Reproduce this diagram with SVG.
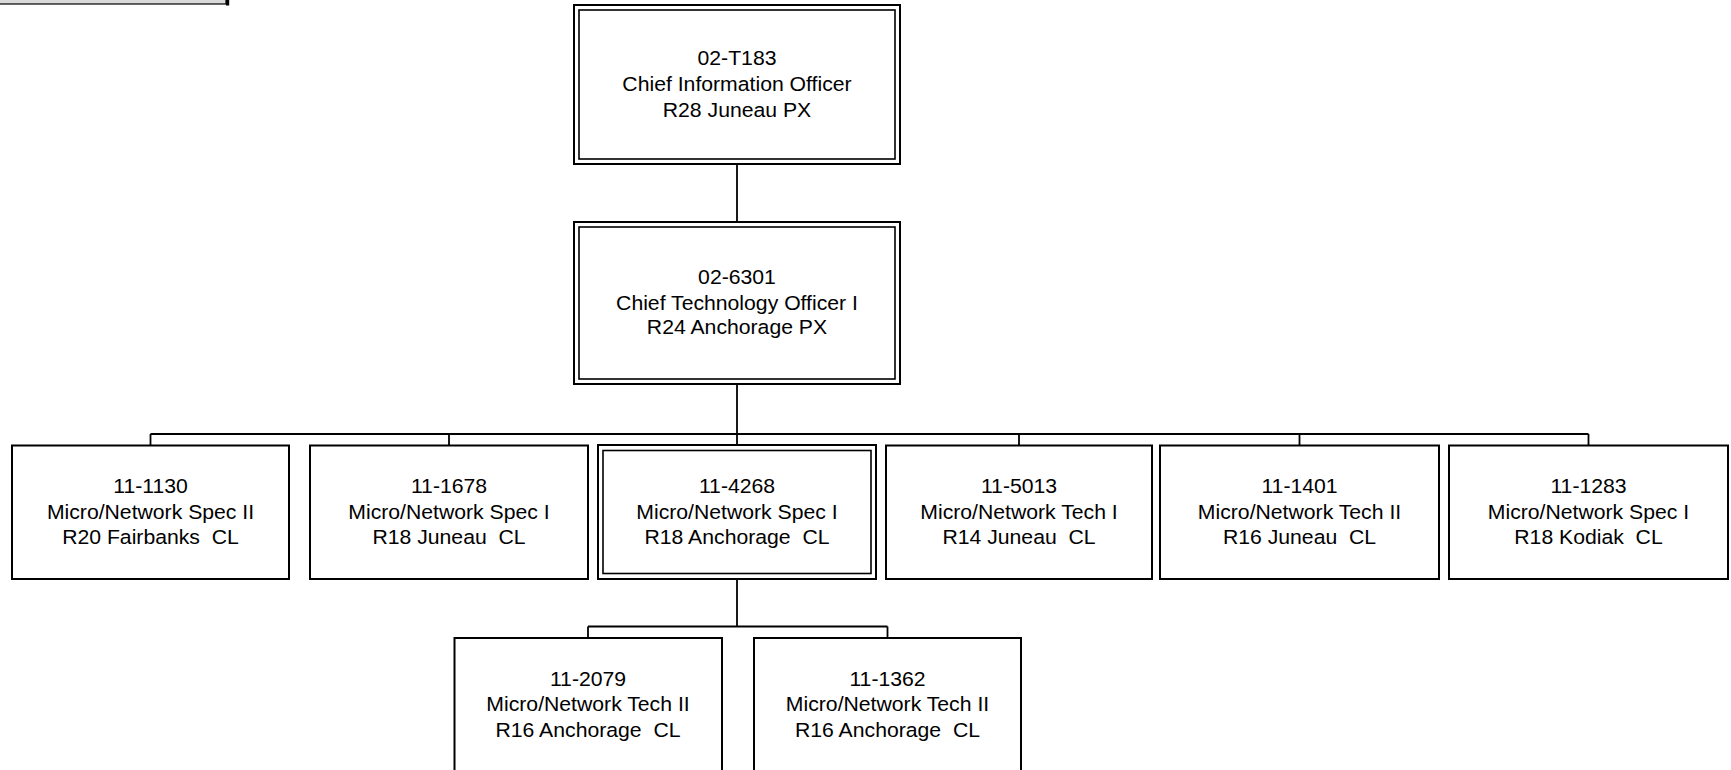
<svg xmlns="http://www.w3.org/2000/svg" width="1731" height="770" viewBox="0 0 1731 770" xml:space="preserve">
<style>
.box{fill:#fff;stroke:#000;stroke-width:2}
.inner{fill:none;stroke:#000;stroke-width:1.6}
.t{font-family:"Liberation Sans",Arial,sans-serif;font-size:19.5px;fill:#000;text-anchor:middle;white-space:pre}
.c{fill:none;stroke:#000;stroke-width:1.8}
</style>
<rect width="1731" height="770" fill="#fff"/>
<g id="header-bar">
<rect x="-4" y="-20" width="230" height="24" fill="#d9d9d9" stroke="#000" stroke-width="1.2"/>
<rect x="226" y="-20" width="3.2" height="25.5" fill="#000"/>
</g>
<g id="connectors">
<line class="c" x1="737" y1="164" x2="737" y2="222" stroke-width="1.5"/>
<line class="c" x1="737" y1="384" x2="737" y2="434" stroke-width="3"/>
<line class="c" x1="737" y1="434" x2="737" y2="445" stroke-width="1.5"/>
<line class="c" x1="150.5" y1="434" x2="1588.5" y2="434"/>
<line class="c" x1="150.5" y1="434" x2="150.5" y2="445.5"/>
<line class="c" x1="449" y1="434" x2="449" y2="445.5"/>
<line class="c" x1="1019" y1="434" x2="1019" y2="445.5"/>
<line class="c" x1="1299.5" y1="434" x2="1299.5" y2="445.5"/>
<line class="c" x1="1588.5" y1="434" x2="1588.5" y2="445.5"/>
<line class="c" x1="737" y1="579" x2="737" y2="626.5"/>
<line class="c" x1="588" y1="626.5" x2="887.5" y2="626.5"/>
<line class="c" x1="588" y1="626.5" x2="588" y2="638"/>
<line class="c" x1="887.5" y1="626.5" x2="887.5" y2="638"/>
</g>
<g id="n-02-T183">
<rect class="box" x="574" y="5" width="326" height="159"/>
<rect class="inner" x="579" y="10" width="316" height="149"/>
<g transform="translate(737 0) scale(1.087 1)">
<text class="t" x="0" y="65">02-T183</text>
<text class="t" x="0" y="91.5">Chief Information Officer</text>
<text class="t" x="0" y="117">R28 Juneau PX</text>
</g>
</g>
<g id="n-02-6301">
<rect class="box" x="574" y="222" width="326" height="162"/>
<rect class="inner" x="579" y="227" width="316" height="152"/>
<g transform="translate(737 0) scale(1.087 1)">
<text class="t" x="0" y="284">02-6301</text>
<text class="t" x="0" y="310">Chief Technology Officer I</text>
<text class="t" x="0" y="334.5">R24 Anchorage PX</text>
</g>
</g>
<g id="n-11-1130">
<rect class="box" x="12" y="445.5" width="277" height="133.5"/>
<g transform="translate(150.5 0) scale(1.087 1)">
<text class="t" x="0" y="493.5">11-1130</text>
<text class="t" x="0" y="519">Micro/Network Spec II</text>
<text class="t" x="0" y="544.5">R20 Fairbanks  CL</text>
</g>
</g>
<g id="n-11-1678">
<rect class="box" x="310" y="445.5" width="278" height="133.5"/>
<g transform="translate(449 0) scale(1.087 1)">
<text class="t" x="0" y="493.5">11-1678</text>
<text class="t" x="0" y="519">Micro/Network Spec I</text>
<text class="t" x="0" y="544.5">R18 Juneau  CL</text>
</g>
</g>
<g id="n-11-4268">
<rect class="box" x="598" y="445" width="278" height="134"/>
<rect class="inner" x="603" y="450.5" width="268" height="123"/>
<g transform="translate(737 0) scale(1.087 1)">
<text class="t" x="0" y="493.5">11-4268</text>
<text class="t" x="0" y="519">Micro/Network Spec I</text>
<text class="t" x="0" y="544.5">R18 Anchorage  CL</text>
</g>
</g>
<g id="n-11-5013">
<rect class="box" x="886" y="445.5" width="266" height="133.5"/>
<g transform="translate(1019 0) scale(1.087 1)">
<text class="t" x="0" y="493.5">11-5013</text>
<text class="t" x="0" y="519">Micro/Network Tech I</text>
<text class="t" x="0" y="544.5">R14 Juneau  CL</text>
</g>
</g>
<g id="n-11-1401">
<rect class="box" x="1160" y="445.5" width="279" height="133.5"/>
<g transform="translate(1299.5 0) scale(1.087 1)">
<text class="t" x="0" y="493.5">11-1401</text>
<text class="t" x="0" y="519">Micro/Network Tech II</text>
<text class="t" x="0" y="544.5">R16 Juneau  CL</text>
</g>
</g>
<g id="n-11-1283">
<rect class="box" x="1449" y="445.5" width="279" height="133.5"/>
<g transform="translate(1588.5 0) scale(1.087 1)">
<text class="t" x="0" y="493.5">11-1283</text>
<text class="t" x="0" y="519">Micro/Network Spec I</text>
<text class="t" x="0" y="544.5">R18 Kodiak  CL</text>
</g>
</g>
<g id="n-11-2079">
<rect class="box" x="454.5" y="638" width="267.5" height="134"/>
<g transform="translate(588 0) scale(1.087 1)">
<text class="t" x="0" y="686">11-2079</text>
<text class="t" x="0" y="711.5">Micro/Network Tech II</text>
<text class="t" x="0" y="737">R16 Anchorage  CL</text>
</g>
</g>
<g id="n-11-1362">
<rect class="box" x="754" y="638" width="267" height="134"/>
<g transform="translate(887.5 0) scale(1.087 1)">
<text class="t" x="0" y="686">11-1362</text>
<text class="t" x="0" y="711.5">Micro/Network Tech II</text>
<text class="t" x="0" y="737">R16 Anchorage  CL</text>
</g>
</g>
</svg>
